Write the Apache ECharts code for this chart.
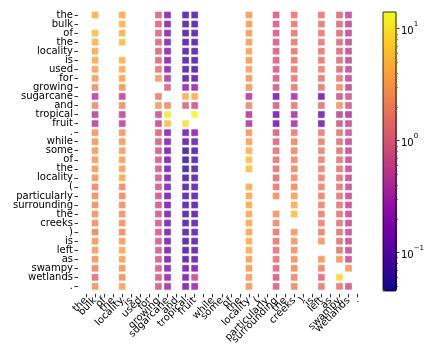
<!DOCTYPE html>
<html>
<head>
<meta charset="utf-8">
<script src="https://cdn.jsdelivr.net/npm/echarts@6/dist/echarts.min.js"></script>
<style>
  html, body { margin: 0; padding: 0; background: #fff; }
  #chart { width: 427px; height: 347px; }
</style>
</head>
<body>
<div id="chart"></div>
<script>
// Sentence tokens (rows and x-axis ticks)
const tokens = ["the","bulk","of","the","locality","is","used","for","growing","sugarcane","and","tropical","fruit",".","while","some","of","the","locality","(","particularly","surrounding","the","creeks",")","is","left","as","swampy","wetlands","."];

// Token positions that carry a column of scores
const columnIndex = [1, 4, 8, 9, 11, 12, 18, 21, 23, 26, 28, 29];

// Score of each row token against the column token (null = not drawn)
const bulk        = [4.5,null,5.5,4.5,4.0,4.0,3.6,3.0,2.3,0.45,2.2,0.45,0.45,2.6,2.8, 3.0,3.0,3.0,2.8,2.0,2.3,2.3,2.5,2.4,2.0,2.8,3.0,2.6,2.0,1.2,2.5];
const locality    = [4.0,4.5,4.5,5.5,null,4.5,4.0,3.5,2.7,0.5,2.4,0.5,0.5,2.8,3.0, 3.0,3.2,3.2,3.8,2.2,2.2,2.4,2.5,2.5,2.2,3.0,3.8,3.2,2.8,2.3,3.3];
const growing     = [1.0,1.0,1.0,1.0,1.0,1.05,1.4,3.0,null,1.7,3.0,0.65,0.55,1.0,0.85, 0.8,0.8,0.8,0.8,0.8,0.75,0.75,0.8,0.8,0.8,0.8,0.8,0.8,0.85,0.85,0.85];
const sugarcane   = [0.2,0.2,0.2,0.2,0.2,0.2,0.22,0.4,1.0,null,2.3,11,5.5,0.2,0.2, 0.16,0.16,0.16,0.16,0.16,0.16,0.16,0.16,0.16,0.16,0.16,0.16,0.16,0.18,0.25,0.3];
const tropical    = [0.08,0.08,0.08,0.08,0.08,0.08,0.08,0.09,0.25,4.3,1.0,null,10,0.15,0.1, 0.06,0.06,0.06,0.07,0.08,0.08,0.08,0.08,0.08,0.08,0.08,0.08,0.09,0.14,0.15,0.15];
const fruit       = [0.08,0.08,0.08,0.08,0.08,0.08,0.08,0.09,0.25,4.3,0.7,13,null,0.2,0.12, 0.08,0.08,0.08,0.08,0.09,0.09,0.09,0.09,0.1,0.1,0.09,0.09,0.1,0.15,0.6,0.25];
const locality2   = [3.0,3.0,3.0,3.0,3.5,3.0,3.2,2.8,2.6,0.38,2.0,0.38,0.38,2.8,3.2, 4.5,5.5,5.5,null,4.0,4.0,4.0,3.8,3.8,3.5,4.0,4.0,3.3,3.0,3.0,2.8];
const surrounding = [0.85,0.85,0.85,0.85,0.85,0.85,0.85,0.85,0.85,0.14,0.85,0.14,0.14,0.9,1.0, 1.3,1.3,1.3,1.2,1.5,2.3,null,2.5,2.2,1.5,1.4,1.3,1.3,1.0,0.8,0.9];
const creeks      = [1.5,1.5,1.5,1.5,1.5,1.5,1.5,1.5,1.5,0.33,1.5,0.33,0.33,1.6,1.9, 2.0,2.0,2.0,2.1,2.2,3.0,4.2,5.5,null,2.8,2.6,2.4,2.4,2.2,2.0,2.0];
const left        = [1.5,1.5,1.5,1.5,1.5,1.5,1.8,1.5,1.5,0.14,1.3,0.14,0.14,1.6,1.7, 1.8,1.8,1.8,1.8,1.8,1.9,1.9,1.8,1.8,1.8,2.7,null,2.7,1.8,1.1,1.6];
const swampy      = [1.1,1.1,1.1,1.1,1.1,1.1,1.1,1.5,2.3,0.75,2.6,0.5,0.75,1.4,1.3, 1.4,1.4,1.4,1.4,1.4,1.4,1.4,1.4,1.4,1.4,1.4,1.4,2.8,null,8,1.5];
const wetlands    = [0.55,0.55,0.55,0.55,0.55,0.55,0.55,0.55,0.55,0.8,0.85,0.4,0.6,0.7,0.55, 0.6,0.6,0.6,0.6,0.6,0.6,0.6,0.6,0.6,0.6,0.6,0.6,0.65,2.8,null,0.75];

const columns = [bulk, locality, growing, sugarcane, tropical, fruit, locality2, surrounding, creeks, left, swampy, wetlands];

// Colour scale limits (log scale)
const vmin = 0.0454, vmax = 14.1;
const colorbarMajor = [0.1, 1, 10];
const colorbarMinor = [0.05,0.06,0.07,0.08,0.09,0.2,0.3,0.4,0.5,0.6,0.7,0.8,0.9,2,3,4,5,6,7,8,9];

const plasma = ['#0d0887','#41049d','#6a00a8','#8f0da4','#b12a90','#cc4778','#e16462','#f2844b','#fca636','#fcce25','#f0f921'];

const points = [];
columns.forEach((col, ci) => {
  col.forEach((v, r) => {
    if (v != null) points.push([columnIndex[ci], r, Math.log10(v)]);
  });
});

// One category slot per token position (duplicates like "the" stay separate)
const slots = tokens.map((_, i) => String(i));
const font = 'DejaVu Sans';
const lmin = Math.log10(vmin), lmax = Math.log10(vmax);

const chart = echarts.init(document.getElementById('chart'), null, { renderer: 'canvas' });
chart.setOption({
  animation: false,
  textStyle: { fontFamily: font },
  grid: [
    { left: 81.5, top: 10.5, width: 280.6, height: 280.6 },
    { left: 383, top: 12, width: 14, height: 279, show: true, borderColor: '#000', borderWidth: 0.8, backgroundColor: 'transparent', z: 5 }
  ],
  xAxis: [
    {
      gridIndex: 0, type: 'category', data: slots, position: 'bottom', offset: 3,
      splitLine: { show: false }, axisLine: { show: false, onZero: false },
      axisTick: { show: true, alignWithLabel: true, interval: 0, length: 3.5, lineStyle: { color: '#000', width: 0.8 } },
      axisLabel: { interval: 0, rotate: 45, margin: 5, fontSize: 10, color: '#000', fontFamily: font,
                   formatter: (v, i) => tokens[i] }
    },
    { gridIndex: 1, type: 'value', min: 0, max: 1, show: false }
  ],
  yAxis: [
    {
      gridIndex: 0, type: 'category', data: slots, inverse: true, position: 'left', offset: 3.5,
      splitLine: { show: false }, axisLine: { show: false, onZero: false },
      axisTick: { show: true, alignWithLabel: true, interval: 0, length: 3.5, lineStyle: { color: '#000', width: 0.8 } },
      axisLabel: { interval: 0, margin: 5, fontSize: 10, color: '#000', fontFamily: font,
                   formatter: (v, i) => tokens[i] }
    },
    {
      gridIndex: 1, type: 'value', min: lmin, max: lmax, position: 'right',
      splitLine: { show: false }, axisLine: { show: false, onZero: false },
      axisTick: { show: true, length: 3.5, lineStyle: { color: '#000', width: 0.8 }, customValues: colorbarMajor.map(Math.log10) },
      axisLabel: {
        customValues: colorbarMajor.map(Math.log10), margin: 5, color: '#000', fontFamily: font,
        showMinLabel: true, showMaxLabel: true,
        formatter: v => '{b|10}{s|' + String(Math.round(v)).replace('-', '\u2212') + '}',
        rich: {
          b: { fontSize: 10, color: '#000', fontFamily: font, lineHeight: 16, verticalAlign: 'bottom' },
          s: { fontSize: 7, color: '#000', fontFamily: font, lineHeight: 16, verticalAlign: 'top' }
        }
      }
    },
    {
      gridIndex: 1, type: 'value', min: lmin, max: lmax, position: 'right',
      splitLine: { show: false }, axisLine: { show: false, onZero: false },
      axisTick: { show: true, length: 2, lineStyle: { color: '#000', width: 0.6 }, customValues: colorbarMinor.map(Math.log10) },
      axisLabel: { show: false }
    }
  ],
  visualMap: {
    type: 'continuous', seriesIndex: 0, dimension: 2,
    min: lmin, max: lmax, calculable: false, text: null, showLabel: false,
    left: 383, top: 12, itemWidth: 14, itemHeight: 279, padding: 0,
    inRange: { color: plasma }
  },
  series: [{
    type: 'scatter', xAxisIndex: 0, yAxisIndex: 0,
    symbol: 'rect', symbolSize: 7,
    itemStyle: { borderColor: 'rgba(255,255,255,0.45)', borderWidth: 1 },
    data: points
  }]
});
</script>
</body>
</html>
